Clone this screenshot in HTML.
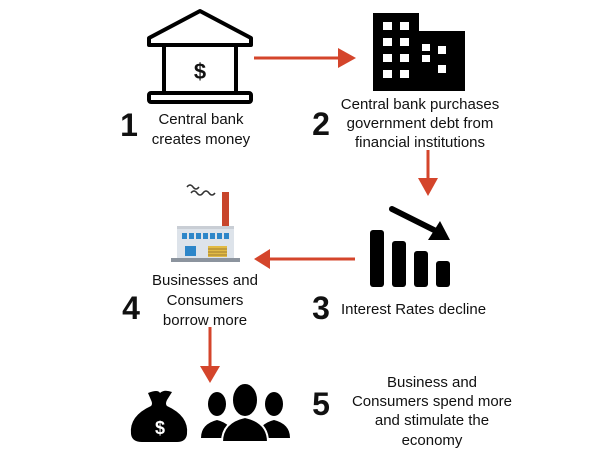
<!DOCTYPE html>
<html><head><style>
html,body{margin:0;padding:0;background:#fff;}
svg{display:block;}
text{font-family:"Liberation Sans",sans-serif;fill:#111;}
.t{font-size:15px;text-anchor:middle;}
.n{font-size:32px;font-weight:bold;text-anchor:middle;}
</style></head><body>
<svg width="600" height="450" viewBox="0 0 600 450" xmlns="http://www.w3.org/2000/svg">
<!-- bank -->
<g fill="none" stroke="#000" stroke-width="4" stroke-linejoin="round">
<path d="M200 11 L251 38 L251 45 L149 45 L149 38 Z"/>
<rect x="164" y="45" width="72" height="48"/>
<rect x="149" y="93" width="102" height="9" rx="2"/>
</g>
<text x="200" y="79" style="font-size:22px;font-weight:bold;text-anchor:middle">$</text>
<text class="t" x="201" y="124">Central bank</text>
<text class="t" x="201" y="144">creates money</text>
<text class="n" x="129" y="136">1</text>
<!-- arrow 1 -->
<line x1="254" y1="58" x2="340" y2="58" stroke="#d4452b" stroke-width="3"/>
<polygon points="338,48 356,58 338,68" fill="#d4452b"/>
<!-- building -->
<rect x="373" y="13" width="46" height="78" fill="#000"/>
<rect x="418" y="31" width="47" height="60" fill="#000"/>
<g fill="#fff">
<rect x="383" y="22" width="9" height="8"/><rect x="400" y="22" width="9" height="8"/>
<rect x="383" y="38" width="9" height="8"/><rect x="400" y="38" width="9" height="8"/>
<rect x="383" y="54" width="9" height="8"/><rect x="400" y="54" width="9" height="8"/>
<rect x="383" y="70" width="9" height="8"/><rect x="400" y="70" width="9" height="8"/>
<rect x="422" y="44" width="8" height="7"/><rect x="438" y="46" width="8" height="8"/>
<rect x="422" y="55" width="8" height="7"/><rect x="438" y="65" width="8" height="8"/>
</g>
<text class="t" x="420" y="109">Central bank purchases</text>
<text class="t" x="420" y="128">government debt from</text>
<text class="t" x="420" y="147">financial institutions</text>
<text class="n" x="321" y="135">2</text>
<!-- arrow down -->
<line x1="428" y1="150" x2="428" y2="180" stroke="#d4452b" stroke-width="3"/>
<polygon points="418,178 438,178 428,196" fill="#d4452b"/>
<!-- chart -->
<g fill="#000">
<rect x="370" y="230" width="14" height="57" rx="3"/>
<rect x="392" y="241" width="14" height="46" rx="3"/>
<rect x="414" y="251" width="14" height="36" rx="3"/>
<rect x="436" y="261" width="14" height="26" rx="3"/>
</g>
<line x1="392" y1="209" x2="436" y2="231" stroke="#000" stroke-width="6" stroke-linecap="round"/>
<polygon points="440,221 450,240 428,240" fill="#000"/>
<text class="n" x="321" y="319">3</text>
<text x="341" y="314" style="font-size:15px">Interest Rates decline</text>
<!-- arrow left -->
<line x1="355" y1="259" x2="268" y2="259" stroke="#d4452b" stroke-width="3"/>
<polygon points="270,249 254,259 270,269" fill="#d4452b"/>
<!-- factory -->
<path d="M187 187 q3 -4 6 0 q3 4 6 0 M191 193 q3 -4 6 0 q3 4 6 0 q3 -4 6 0 q3 4 6 0" stroke="#333" stroke-width="1.5" fill="none"/>
<rect x="222" y="192" width="7" height="36" fill="#c8452b"/>
<rect x="177" y="228" width="57" height="30" fill="#dde3ea"/>
<rect x="177" y="226" width="57" height="3" fill="#c9ced5"/>
<g fill="#2d86c9">
<rect x="182" y="233" width="5" height="6"/><rect x="189" y="233" width="5" height="6"/><rect x="196" y="233" width="5" height="6"/><rect x="203" y="233" width="5" height="6"/><rect x="210" y="233" width="5" height="6"/><rect x="217" y="233" width="5" height="6"/><rect x="224" y="233" width="5" height="6"/>
<rect x="185" y="246" width="11" height="10"/>
</g>
<rect x="208" y="246" width="19" height="11" fill="#e2bb45"/>
<path d="M208 249 h19 M208 252 h19 M208 255 h19" stroke="#8a6a2a" stroke-width="0.8"/>
<rect x="171" y="258" width="69" height="4" fill="#8c949e"/>
<text class="t" x="205" y="285">Businesses and</text>
<text class="t" x="205" y="305">Consumers</text>
<text class="t" x="205" y="325">borrow more</text>
<text class="n" x="131" y="319">4</text>
<!-- arrow down 2 -->
<line x1="210" y1="327" x2="210" y2="368" stroke="#d4452b" stroke-width="3"/>
<polygon points="200,366 220,366 210,383" fill="#d4452b"/>
<!-- money bag -->
<path d="M148 393 q10 -4 12 0 q4 -4 12 -1 l-5 8 q-2 4 0 6 q22 10 20 28 q-1 8 -10 8 h-35 q-10 0 -11 -8 q-2 -18 20 -28 q2 -2 0 -6 z" fill="#000"/>
<text x="160" y="434" style="font-size:18px;font-weight:bold;text-anchor:middle;fill:#fff">$</text>
<!-- people -->
<g fill="#000">
<ellipse cx="217" cy="404" rx="9" ry="12"/>
<path d="M201 438 q0 -14 16 -18 q16 4 16 18 z"/>
<ellipse cx="274" cy="404" rx="9" ry="12"/>
<path d="M258 438 q0 -14 16 -18 q16 4 16 18 z"/>
<ellipse cx="245" cy="400" rx="13" ry="17" stroke="#fff" stroke-width="2"/>
<path d="M222 442 q0 -20 23 -25 q23 5 23 25 z" stroke="#fff" stroke-width="2"/>
</g>
<text class="t" x="432" y="387">Business and</text>
<text class="t" x="432" y="406">Consumers spend more</text>
<text class="t" x="432" y="425">and stimulate the</text>
<text class="t" x="432" y="445">economy</text>
<text class="n" x="321" y="415">5</text>
</svg>
</body></html>
